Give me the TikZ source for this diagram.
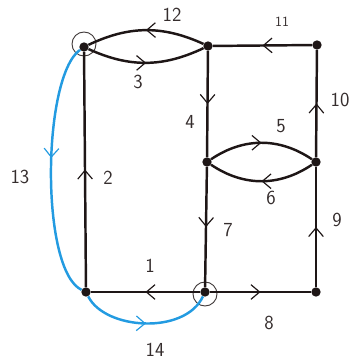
\documentclass[tikz,border=0pt]{standalone}
\usetikzlibrary{arrows.meta,decorations.markings}
\definecolor{pathblue}{RGB}{35,155,225}
\definecolor{inkline}{RGB}{30,22,22}
\begin{document}
\begin{tikzpicture}[x=0.03cm, y=0.03cm,
  vertex/.style={circle, fill=inkline, inner sep=0pt, minimum size=0.28cm},
  ring/.style={circle, draw=inkline!85, line width=0.8pt, inner sep=0pt, minimum size=0.72cm},
  flow/.style={draw=inkline, line width=2.1pt, postaction={decorate},
    decoration={markings, mark=at position #1 with
      {\arrow{Straight Barb[length=2.6mm, width=4.4mm, line width=1pt]}}}},
  flow/.default=0.5,
  lbl/.style={font=\sffamily\fontsize{17}{17}\selectfont, text=inkline!90}]
  \useasboundingbox (0,0) rectangle (354,362);

  % vertices
  \foreach \n/\x/\y in {tl/84/315, tm/208/316, tr/317/317, mm/207/200,
                        mr/316/200, bl/86/70, bm/205/70, br/316/70}
    \node[vertex] (\n) at (\x,\y) {};

  % marked start vertices
  \node[ring] (ringtl) at (84,318) {};
  \node[ring] (ringbm) at (205,68) {};

  % edges
  \draw[flow] (bm) -- (bl);
  \draw[flow] (bl) -- (tl);
  \draw[flow] (tl) to[bend right=25] (tm);
  \draw[flow] (tm) -- (mm);
  \draw[flow] (mm) to[bend left=34] (mr);
  \draw[flow] (mr) to[bend left=34] (mm);
  \draw[flow] (mm) -- (bm);
  \draw[flow] (bm) -- (br);
  \draw[flow] (br) -- (mr);
  \draw[flow] (mr) -- (tr);
  \draw[flow] (tr) -- (tm);
  \draw[flow] (tm) to[bend right=25] (tl);
  \draw[flow=0.45, draw=pathblue] (tl) .. controls (42,285) and (40,92) .. (bl);
  \draw[flow=0.5, draw=pathblue] (bl) .. controls (105,32) and (185,27) .. (bm);

  % edge numbers
  \foreach \n/\x/\y/\t in {1/150/96/1, 2/108/184/2, 3/138/280/3, 4/190/240/4,
                           5/281/236/5, 6/271/164/6, 7/228/132/7, 8/269/39/8,
                           9/337/142/9, 10/340/262/10, 12/172/347/12,
                           13/20/185/13, 14/155/12/14}
    \node[lbl] (lab\n) at (\x,\y) {\t};
  \node[lbl, font=\sffamily\fontsize{12}{12}\selectfont] (lab11) at (282,340) {11};
\end{tikzpicture}
\end{document}
